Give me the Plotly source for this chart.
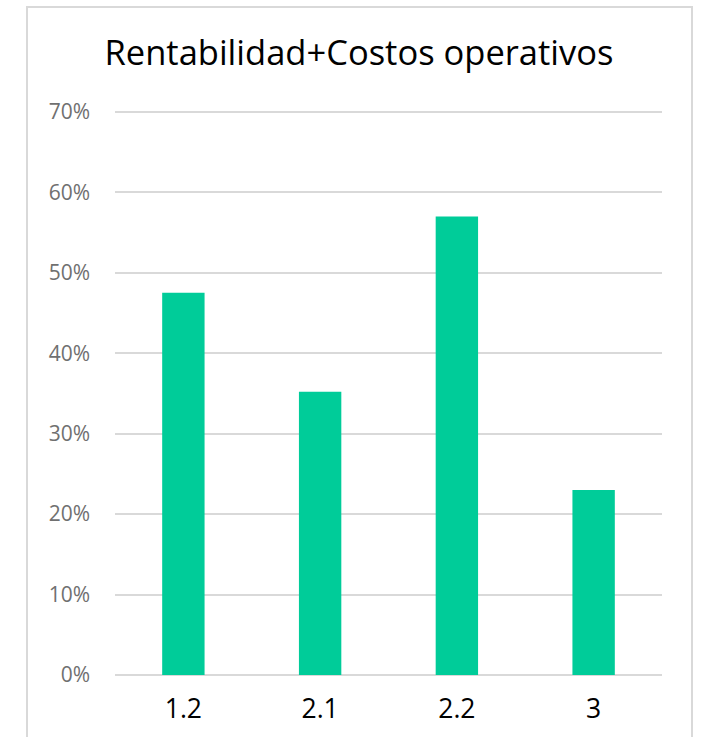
import plotly.graph_objects as go

categories = ["1.2", "2.1", "2.2", "3"]
values = [0.475, 0.352, 0.570, 0.230]
tick_vals = [0, 0.1, 0.2, 0.3, 0.4, 0.5, 0.6, 0.7]
title_text = "Rentabilidad+Costos operativos"

W, H = 701, 737
L, R, B = 115, 39, 62
pw = W - L - R
px_per_unit = 563 / 0.7
y_max = 0.706
ph = round(px_per_unit * y_max)
T = H - B - ph

def px_x(p):
    return (p - L) / pw

def px_y(p):
    return (H - B - p) / ph

fig = go.Figure()
fig.add_trace(go.Bar(
    x=categories, y=values,
    marker=dict(color="#00CC99", line=dict(width=0)),
    width=0.31,
))

fig.update_layout(
    width=W, height=H,
    margin=dict(l=L, r=R, t=T, b=B),
    paper_bgcolor="white", plot_bgcolor="white",
    showlegend=False,
    title=dict(text=title_text, x=359 / W, xref="container", xanchor="center",
               y=1 - 53 / H, yanchor="middle",
               font=dict(family="Open Sans", size=34.5, color="#000000")),
    xaxis=dict(showgrid=False, showline=False, zeroline=False, ticks="",
               tickfont=dict(family="Open Sans", size=26.5, color="#000000"),
               ticklabelstandoff=15),
    yaxis=dict(range=[0, y_max], tickvals=tick_vals, tickformat=".0%",
               showgrid=True, gridcolor="#d9d9d9", gridwidth=2,
               zeroline=True, zerolinecolor="#d9d9d9", zerolinewidth=2,
               showline=False, ticks="",
               tickfont=dict(family="Open Sans", size=21, color="#707070"),
               ticklabelstandoff=24),
    shapes=[dict(type="rect", xref="paper", yref="paper",
                 x0=px_x(27), x1=px_x(692), y0=px_y(760), y1=px_y(7),
                 line=dict(color="#d9d9d9", width=2), fillcolor="rgba(0,0,0,0)",
                 layer="below")],
)

fig.write_html("out.html", config={"displayModeBar": False},
               post_script="document.body.style.margin='0';")
